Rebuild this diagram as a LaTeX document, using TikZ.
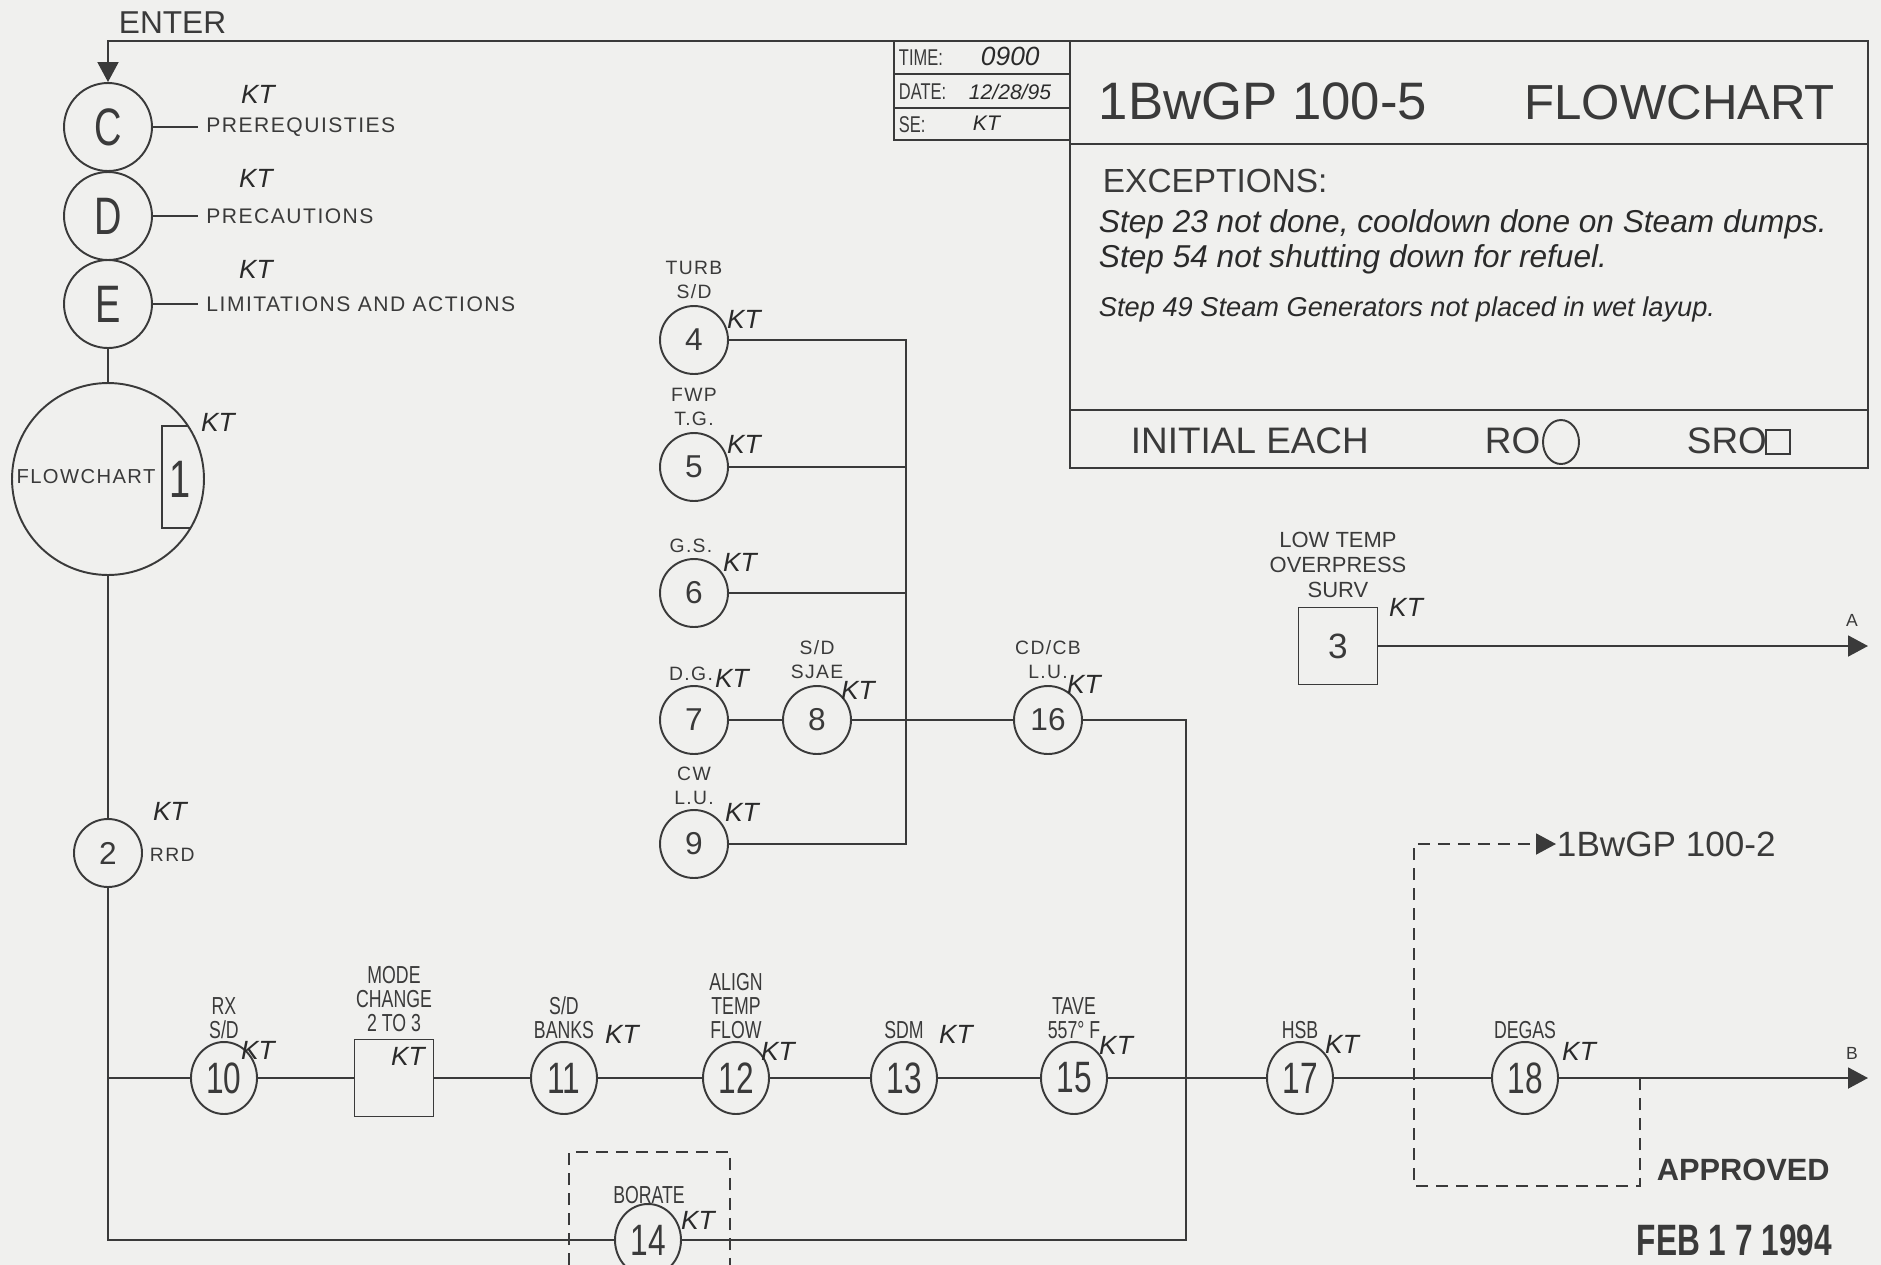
\documentclass[tikz,border=0pt]{standalone}
\usepackage{fontspec}
\setmainfont{Liberation Sans}
\newfontfamily\cadn[FakeStretch=0.72]{Liberation Sans}
\newfontfamily\cadw[LetterSpace=7]{Liberation Sans}
\usetikzlibrary{arrows.meta,shapes.geometric}
\definecolor{paper}{HTML}{F0F0EE}
\definecolor{ink}{HTML}{3A3A3A}
\definecolor{pen}{HTML}{2A2A2A}

\begin{document}
\begin{tikzpicture}[x=0.02cm,y=-0.02cm,line width=1.1pt,color=ink,>={Triangle[length=0.4cm,width=0.42cm]},
  stepc/.style={circle,draw,minimum size=1.36cm,inner sep=0pt,font=\fontsize{18}{18}\selectfont},
  stepe/.style={ellipse,draw,minimum width=1.32cm,minimum height=1.44cm,inner sep=0pt,font=\cadn\fontsize{25}{25}\selectfont},
  letc/.style={circle,draw,minimum size=1.76cm,inner sep=0pt,font=\cadn\fontsize{30}{30}\selectfont},
  boxn/.style={rectangle,draw,minimum width=1.58cm,minimum height=1.54cm,inner sep=0pt,font=\fontsize{20}{20}\selectfont},
  tag/.style={align=center,inner sep=0pt,font=\cadw\fontsize{11}{13.6}\selectfont},
  tagn/.style={align=center,inner sep=0pt,font=\cadn\fontsize{14}{13.7}\selectfont},
  side/.style={anchor=west,inner sep=0.15cm,font=\cadw\fontsize{12}{12}\selectfont},
  kt/.style={inner sep=0pt,text=pen,font=\itshape\fontsize{15}{15}\selectfont},
  hand/.style={anchor=base west,inner sep=0pt,text=pen,font=\itshape\fontsize{18}{18}\selectfont},
  dsh/.style={dash pattern=on 0.24cm off 0.16cm}]
\path[use as bounding box,fill=paper] (0,0) rectangle (1881,1265);
\node[anchor=base west,inner sep=0pt,font=\fontsize{18}{18}\selectfont] (tenter) at (118,33) {ENTER};
\foreach \n/\y/\t in {C/127/PREREQUISTIES,D/216/PRECAUTIONS,E/304/LIMITATIONS AND ACTIONS} {
  \node[letc] (n\n) at (108,\y) {\n};
  \node[side] (l\n) at (198,\y) {\t};
  \draw (n\n) -- (l\n.west);
}
\coordinate (tr) at (1868,41);
\draw[->] (tr) -| (nC);
\node[circle,draw,minimum size=3.84cm,inner sep=0pt] (nF) at (108,479) {};
\node[inner sep=0pt,font=\cadw\fontsize{11.5}{11.5}\selectfont] (tF) at (86,477) {FLOWCHART};
\draw (188,426) -- (162,426) -- (162,528) -- (190,528);
\node[inner sep=0pt,font=\cadn\fontsize{30}{30}\selectfont] (t1) at (180,479) {1};
\node[stepc] (n2) at (108,853) {2};
\node[anchor=west,inner sep=0pt,font=\cadw\fontsize{11}{11}\selectfont] (tR) at (149,855) {RRD};
\draw (nE) -- (nF);
\draw (nF) -- (n2);

\foreach \n/\y in {4/340,5/467,6/593,7/720,9/844} \node[stepc] (n\n) at (694,\y) {\n};
\node[stepc] (n8) at (817,720) {8};
\node[stepc] (n16) at (1048,720) {16};
\coordinate (bus) at (906,844);
\draw (n4) -| (bus) -- (n9);
\draw (n5) -- (n5 -| bus);
\draw (n6) -- (n6 -| bus);
\draw (n7) -- (n8) -- (n16);
\node[tag] (t4) at (694,280) {TURB\\S/D};
\node[tag] (t5) at (694,407) {FWP\\T.G.};
\node[tag] (t6) at (691,546) {G.S.};
\node[tag] (t7) at (691,674) {D.G.};
\node[tag] (t8) at (817,660) {S/D\\SJAE};
\node[tag] (t9) at (694,786) {CW\\L.U.};
\node[tag] (t16) at (1048,660) {CD/CB\\L.U.};

\node[boxn] (n3) at (1338,646) {3};
\node[tag,font=\fontsize{12.5}{14}\selectfont] (t3) at (1338,565) {LOW TEMP\\OVERPRESS\\SURV};
\coordinate (aout) at (1868,646);
\draw[->] (n3) -- (aout);
\node[font=\fontsize{10}{10}\selectfont,inner sep=0pt] (tA) at (1852,620) {A};

\foreach \n/\x in {10/224,11/564,12/736,13/904,15/1074,17/1300,18/1525} \node[stepe] (n\n) at (\x,1078) {\n};
\node[boxn] (nmc) at (394,1078) {};
\node[stepe] (n14) at (648,1240) {14};
\coordinate (mj) at (108,1078);
\coordinate (bout) at (1868,1078);
\coordinate (cr) at (1186,1240);
\draw (mj) -- (n10) -- (nmc) -- (n11) -- (n12) -- (n13) -- (n15) -- (n17) -- (n18);
\draw[->] (n18) -- (bout);
\node[font=\fontsize{10}{10}\selectfont,inner sep=0pt] (tB) at (1852,1053) {B};
\draw (n2) |- (n14);
\draw (n16) -| (cr) -- (n14);
\node[tagn] (t10) at (224,1018) {RX\\S/D};
\node[tagn] (tmc) at (394,999) {MODE\\CHANGE\\2 TO 3};
\node[tagn] (t11) at (564,1018) {S/D\\BANKS};
\node[tagn] (t12) at (736,1006) {ALIGN\\TEMP\\FLOW};
\node[tagn] (t13) at (904,1030) {SDM};
\node[tagn] (t15) at (1074,1018) {TAVE\\557° F};
\node[tagn] (t17) at (1300,1030) {HSB};
\node[tagn] (t18) at (1525,1030) {DEGAS};
\node[tagn] (t14) at (649,1195) {BORATE};

\coordinate (d1) at (1640,1078);
\coordinate (d2) at (1414,1186);
\node[anchor=west,inner sep=0pt,font=\fontsize{20}{20}\selectfont] (tref) at (1556,844) {1BwGP 100-2};
\draw[dsh,->] (d1) |- (d2) |- (tref.west);
\coordinate (bl) at (569,1265);
\coordinate (br) at (730,1265);
\draw[dsh] (bl) |- (650,1152) -| (br);
\node[anchor=west,inner sep=0pt,font=\bfseries\fontsize{17.5}{17.5}\selectfont] (tapp) at (1656,1170) {APPROVED};
\node[anchor=west,inner sep=0pt,font=\cadn\bfseries\fontsize{25}{25}\selectfont] (tfeb) at (1636,1240) {FEB 1 7 1994};

\draw (894,41) rectangle (1070,140);
\draw (894,74) -- (1070,74) (894,108) -- (1070,108);
\draw (1070,41) rectangle (1868,468);
\draw (1070,144) -- (1868,144) (1070,410) -- (1868,410);
\node[anchor=base west,inner sep=0pt,font=\cadn\fontsize{13}{13}\selectfont] (ttime) at (898,65) {TIME:};
\node[anchor=base west,inner sep=0pt,font=\cadn\fontsize{13}{13}\selectfont] (tdate) at (898,99) {DATE:};
\node[anchor=base west,inner sep=0pt,font=\cadn\fontsize{13}{13}\selectfont] (tse) at (898,132) {SE:};
\node[kt,anchor=base west] (htime) at (980,65) {0900};
\node[kt,anchor=base west,font=\itshape\fontsize{12}{12}\selectfont] (hdate) at (968,99) {12/28/95};
\node[kt,anchor=base west,font=\itshape\fontsize{12}{12}\selectfont] (hse) at (972,130) {KT};
\node[anchor=base west,inner sep=0pt,font=\fontsize{30}{30}\selectfont] (ttitle) at (1098,119) {1BwGP 100-5};
\node[anchor=base east,inner sep=0pt,font=\fontsize{28}{28}\selectfont] (tflow) at (1836,119) {FLOWCHART};
\node[anchor=base west,inner sep=0pt,font=\fontsize{19}{19}\selectfont] (texc) at (1102,192) {EXCEPTIONS:};
\node[hand] (h1) at (1098,232) {Step 23 not done, cooldown done on Steam dumps.};
\node[hand] (h2) at (1098,267) {Step 54 not shutting down for refuel.};
\node[hand,font=\itshape\fontsize{15.5}{15.5}\selectfont] (h3) at (1098,316) {Step 49 Steam Generators not placed in wet layup.};
\node[anchor=base west,inner sep=0pt,font=\fontsize{21}{21}\selectfont] (tinit) at (1130,453) {INITIAL EACH};
\node[anchor=base west,inner sep=0pt,font=\fontsize{21}{21}\selectfont] (tro) at (1484,453) {RO};
\node[ellipse,draw,minimum width=0.72cm,minimum height=0.88cm,inner sep=0pt] (cro) at (1561,442) {};
\node[anchor=base west,inner sep=0pt,font=\fontsize{21}{21}\selectfont] (tsro) at (1686,453) {SRO};
\node[draw,minimum size=0.48cm,inner sep=0pt] (qsro) at (1778,442) {};

\foreach \n/\x/\y in {C/258/94,D/256/178,E/256/269,F/218/422,2/170/811,4/744/319,5/744/444,6/740/562,7/732/678,8/858/690,9/742/812,16/1084/684,3/1406/607,10/258/1050,mc/408/1056,11/622/1034,12/778/1051,13/956/1034,15/1116/1045,17/1342/1044,18/1579/1051,14/698/1220} \node[kt] (k\n) at (\x,\y) {KT};
\end{tikzpicture}
\end{document}
